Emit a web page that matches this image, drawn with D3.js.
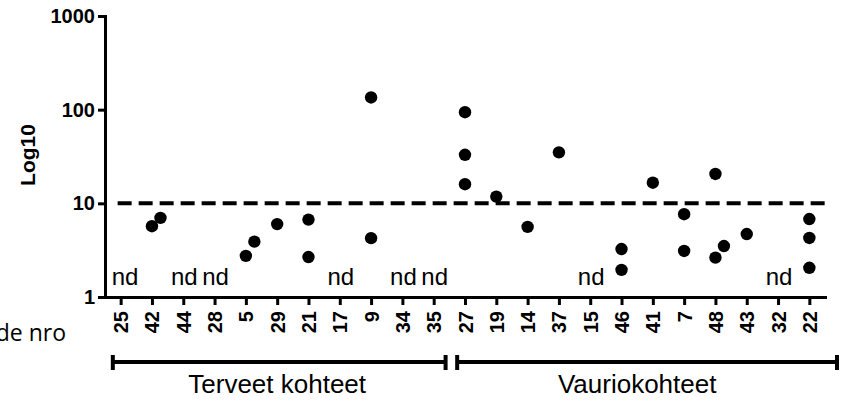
<!DOCTYPE html>
<html>
<script src='https://d3js.org/d3.v7.min.js'></script>
<style>
body {margin: 0; background: white;}
.axis path, .axis line {stroke: black; stroke-width: 3;}
.axis text {font-family: 'Liberation Sans', Arial, sans-serif; font-weight: bold; font-size: 20px; fill: black;}
</style>
<body onload='init()'>
<script>
// sample sites in plotted order
var sites = ['25','42','44','28','5','29','21','17','9','34','35','27','19','14','37','15','46','41','7','48','43','32','22'];
// measured values per site (empty = nd)
var siteValues = [
  [], [5.7, 7.0], [], [], [2.75, 3.9], [6.0], [6.7, 2.67], [], [135, 4.25], [], [],
  [94, 33, 16], [11.8], [5.6], [35], [], [3.25, 1.95], [16.6], [7.65, 3.1], [20.6, 2.63, 3.5], [4.7], [], [6.8, 4.27, 2.05]
];
var groupNames = ['Terveet kohteet', 'Vauriokohteet'];
var groupSizes = [11, 12];
var yTicks = [1, 10, 100, 1000];
var threshold = 10;
var yTitle = 'Log10';
var xTitle = 'Kohde nro';
var ndLabel = 'nd';

function init() {
var svg = d3.select('body').append('svg')
  .attr('width', 846)
  .attr('height', 402);

var x = d3.scalePoint().domain(sites).range([105, 825]).padding(0.5);
var y = d3.scaleLog().domain([1, 1000]).range([297, 16]);
var step = x.step();

// y axis
svg.append('g')
  .attr('class', 'axis')
  .attr('transform', 'translate(105,0)')
  .call(d3.axisLeft(y).tickValues(yTicks).tickFormat(d3.format('d')).tickSize(7).tickPadding(3).tickSizeOuter(0))
  .attr('font-size', null).attr('font-family', null);

// x axis
var xa = svg.append('g')
  .attr('class', 'axis')
  .attr('transform', 'translate(0,297)')
  .call(d3.axisBottom(x).tickSize(8).tickSizeOuter(0))
  .attr('font-size', null).attr('font-family', null);
xa.selectAll('text')
  .attr('transform', 'rotate(-90)')
  .attr('y', 0)
  .attr('x', -14)
  .attr('dy', '0.35em')
  .style('text-anchor', 'end');
svg.selectAll('.axis path.domain').style('stroke-linecap', 'square');

// threshold line
svg.append('line')
  .attr('x1', x(sites[0]) - 3)
  .attr('x2', x.range()[1] + 2)
  .attr('y1', y(threshold))
  .attr('y2', y(threshold))
  .style('stroke', 'black')
  .style('stroke-width', 4)
  .style('stroke-dasharray', '14,7');

// points, nudged sideways when they overlap
var pts = [];
sites.forEach(function(s, i) {
  var vals = siteValues[i].slice().sort(d3.ascending);
  var prevY = null;
  vals.forEach(function(v) {
    var py = y(v);
    var shift = (prevY !== null && Math.abs(prevY - py) < 16) ? 8.5 : 0;
    pts.push({site: s, value: v, dx: shift});
    prevY = py;
  });
});

svg.append('g')
  .selectAll('circle')
  .data(pts)
  .enter()
  .append('circle')
  .attr('cx', function(d) { return x(d.site) + d.dx; })
  .attr('cy', function(d) { return y(d.value); })
  .attr('r', 6.2)
  .style('fill', 'black');

// nd labels
var ndSites = sites.filter(function(s, i) { return siteValues[i].length == 0; });
svg.append('g')
  .selectAll('text')
  .data(ndSites)
  .enter()
  .append('text')
  .attr('x', function(d) { return Math.max(x(d) + 1, 125); })
  .attr('y', 285)
  .style('text-anchor', 'middle')
  .style('font-family', "'Liberation Sans', Arial, sans-serif")
  .style('font-size', '24px')
  .text(ndLabel);

// axis titles
svg.append('text')
  .attr('transform', 'translate(35,155)rotate(-90)')
  .style('text-anchor', 'middle')
  .style('font-family', "'Liberation Sans', Arial, sans-serif")
  .style('font-weight', 'bold')
  .style('font-size', '21px')
  .text(yTitle);

svg.append('text')
  .attr('x', 66)
  .attr('y', 341)
  .style('text-anchor', 'end')
  .style('font-family', "'Open Sans', sans-serif")
  .style('font-size', '23px')
  .text(xTitle);

// group brackets
var start = 0;
groupNames.forEach(function(name, gi) {
  var first = sites[start], last = sites[start + groupSizes[gi] - 1];
  var x1 = x(first) - step / 4;
  var x2 = gi == groupNames.length - 1 ? x.range()[1] + 12 : x(last) + step * 0.38;
  var g = svg.append('g').style('stroke', 'black').style('stroke-width', 4);
  g.append('line').attr('x1', x1).attr('x2', x2).attr('y1', 362).attr('y2', 362);
  g.append('line').attr('x1', x1).attr('x2', x1).attr('y1', 355).attr('y2', 370);
  g.append('line').attr('x1', x2).attr('x2', x2).attr('y1', 355).attr('y2', 370);
  svg.append('text')
    .attr('x', (x(first) + x(last)) / 2)
    .attr('y', 393)
    .style('text-anchor', 'middle')
    .style('font-family', "'Liberation Sans', Arial, sans-serif")
    .style('font-size', '26px')
    .text(name);
  start += groupSizes[gi];
});
}
</script>
</body>
</html>
